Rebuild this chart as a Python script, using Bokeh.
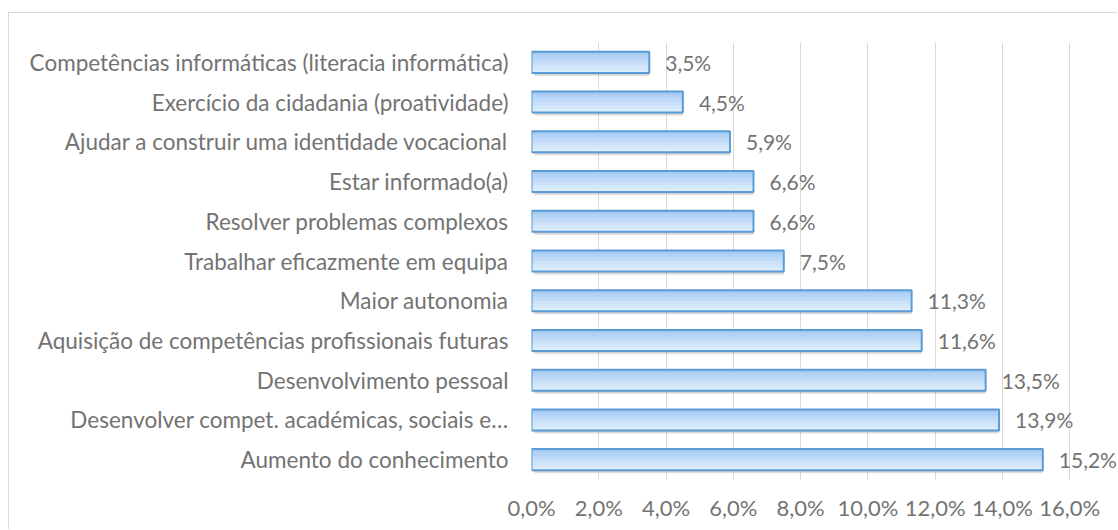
from bokeh.plotting import figure
from bokeh.models import ColumnDataSource, FactorRange, FixedTicker, Range1d
from bokeh.transform import dodge
from bokeh.core.properties import value
from bokeh.embed import file_html
from bokeh.resources import INLINE

# categories listed bottom -> top
categories = [
    "Aumento do conhecimento",
    "Desenvolver compet. académicas, sociais e…",
    "Desenvolvimento pessoal",
    "Aquisição de competências profissionais futuras",
    "Maior autonomia",
    "Trabalhar eficazmente em equipa",
    "Resolver problemas complexos",
    "Estar informado(a)",
    "Ajudar a construir uma identidade vocacional",
    "Exercício da cidadania (proatividade)",
    "Competências informáticas (literacia informática)",
]
values = [15.2, 13.9, 13.5, 11.6, 11.3, 7.5, 6.6, 6.6, 5.9, 4.5, 3.5]
tick_values = [0, 2, 4, 6, 8, 10, 12, 14, 16]
tick_labels = ["0,0%", "2,0%", "4,0%", "6,0%", "8,0%", "10,0%", "12,0%", "14,0%", "16,0%"]
value_labels = [f"{v:.1f}".replace(".", ",") + "%" for v in values]

FONT = "Lato"
TXT = "#737373"

src = ColumnDataSource(dict(cat=categories, v=values, lbl=value_labels))

XMAX = 17.45  # extra room right of 16 so the value labels are not clipped
p = figure(
    width=1109, height=517,
    y_range=FactorRange(*categories), x_range=Range1d(0, XMAX),
    output_backend="svg", toolbar_location=None,
    min_border_left=522, min_border_right=0, min_border_top=29, min_border_bottom=51,
)
p.styles = {"margin-left": "8px", "margin-top": "12px",
            "border-top": "1px solid #d9d9d9", "border-left": "1px solid #d9d9d9"}
p.outline_line_color = None
p.background_fill_color = "white"
p.border_fill_color = "white"

p.xgrid.grid_line_color = "#d9d9d9"
p.xgrid.grid_line_width = 1
p.xgrid.ticker = FixedTicker(ticks=tick_values)
p.xgrid.bounds = (0, 16)
p.ygrid.grid_line_color = None

xa = p.xaxis[0]
xa.ticker = FixedTicker(ticks=tick_values)
xa.major_label_overrides = {t: s for t, s in zip(tick_values, tick_labels)}
xa.axis_line_color = None
xa.major_tick_line_color = None
xa.minor_tick_line_color = None
xa.major_tick_out = 0
xa.major_label_standoff = 14
xa.major_label_text_font = FONT
xa.major_label_text_font_size = "22px"
xa.major_label_text_color = TXT

ya = p.yaxis[0]
ya.axis_line_color = None
ya.major_tick_line_color = None
ya.minor_tick_line_color = None
ya.major_tick_out = 0
ya.major_label_standoff = 23
ya.major_label_text_font = FONT
ya.major_label_text_font_size = "22.5px"
ya.major_label_text_color = TXT

H = 0.53
# shadow
p.hbar(y=dodge("cat", -0.08, range=p.y_range), left=0.09, right="v", height=H,
       source=src, fill_color="#7f7f7f", fill_alpha=0.22, line_color=None)
p.hbar(y=dodge("cat", -0.05, range=p.y_range), left=0.06, right="v", height=H,
       source=src, fill_color="#7f7f7f", fill_alpha=0.18, line_color=None)

# gradient fill (top -> bottom)
grad = ["#a6cbf3", "#b3d3f6", "#bfdaf8", "#cae1f9", "#d3e7fb", "#dbecfc"]
n = len(grad)
h = H / n
for i, c in enumerate(grad):
    off = H / 2 - h / 2 - i * h
    p.hbar(y=dodge("cat", off, range=p.y_range), left=0, right="v", height=h * 1.08,
           source=src, fill_color=c, line_color=None)

# outline
p.hbar(y="cat", left=0, right="v", height=H, source=src,
       fill_color=None, line_color="#5b9bd5", line_width=2)

p.text(x="v", y="cat", text="lbl", source=src, x_offset=16,
       text_align="left", text_baseline="middle",
       text_font=value(FONT), text_font_size="21px", text_color=TXT)

open("out.html", "w").write(file_html(p, INLINE))
